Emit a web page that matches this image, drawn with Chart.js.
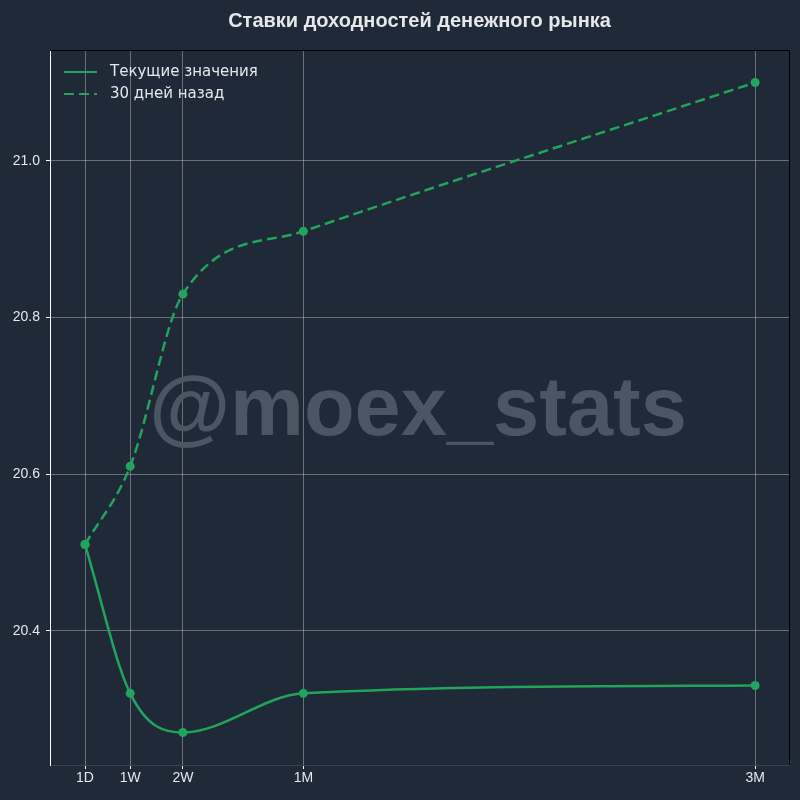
<!DOCTYPE html>
<html>
<head>
<meta charset="utf-8">
<script src="https://cdn.jsdelivr.net/npm/chart.js@4/dist/chart.umd.min.js"></script>
<style>
    html, body { margin: 0; padding: 0; background: #1f2937; }
    #wrap { width: 800px; height: 800px; }
</style>
</head>
<body>
<div id="wrap"><canvas id="rates-chart" width="800" height="800"></canvas></div>
<script>
var tenor_labels = ['1D', '1W', '2W', '1M', '3M'];
var tenor_days = [1, 7, 14, 30, 90];
var current_values = [20.51, 20.32, 20.27, 20.32, 20.33];
var month_ago_values = [20.51, 20.61, 20.83, 20.91, 21.10];
var y_ticks = [20.4, 20.6, 20.8, 21.0];

var title_text = 'Ставки доходностей денежного рынка';
var watermark_text = '@moex_stats';
var green = '#21a45e';

function toPoints(values) {
    var pts = [];
    for (var i = 0; i < values.length; i++) {
        pts.push({ x: tenor_days[i], y: values[i] });
    }
    return pts;
}

var extrasPlugin = {
    id: 'extras',
    beforeDatasetsDraw: function (chart) {
        var ctx = chart.ctx;
        ctx.save();
        ctx.fillStyle = '#4b5563';
        ctx.font = 'bold 83px "Liberation Sans", Arial, sans-serif';
        ctx.textAlign = 'center';
        ctx.textBaseline = 'alphabetic';
        ctx.fillText(watermark_text, 418, 435);
        ctx.restore();
    },
    afterDraw: function (chart) {
        var ctx = chart.ctx;
        var a = chart.chartArea;
        ctx.save();
        // title
        ctx.fillStyle = '#e5e7eb';
        ctx.font = 'bold 20px "Liberation Sans", Arial, sans-serif';
        ctx.textAlign = 'center';
        ctx.textBaseline = 'middle';
        ctx.fillText(title_text, (a.left + a.right) / 2, 21);

        // top and right frame
        ctx.strokeStyle = '#000000';
        ctx.lineWidth = 1;
        ctx.beginPath();
        ctx.moveTo(a.left, a.top + 0.5);
        ctx.lineTo(a.right + 0.5, a.top + 0.5);
        ctx.lineTo(a.right + 0.5, a.bottom);
        ctx.stroke();

        // legend
        var items = chart.data.datasets;
        ctx.font = '15px "DejaVu Sans", sans-serif';
        ctx.textAlign = 'left';
        for (var i = 0; i < items.length; i++) {
            var y = 72 + i * 22;
            ctx.strokeStyle = items[i].borderColor;
            ctx.lineWidth = 2;
            ctx.setLineDash(items[i].borderDash || []);
            ctx.beginPath();
            ctx.moveTo(64, y);
            ctx.lineTo(97, y);
            ctx.stroke();
            ctx.setLineDash([]);
            ctx.fillStyle = '#e5e7eb';
            ctx.fillText(items[i].label, 110, y);
        }
        ctx.restore();
    }
};

var RatesChart = new Chart(document.getElementById('rates-chart'), {
    type: 'line',
    data: {
        datasets: [{
            label: 'Текущие значения',
            data: toPoints(current_values),
            borderColor: green,
            backgroundColor: green,
            pointBackgroundColor: green,
            pointBorderWidth: 0,
            pointRadius: 4.5,
            borderWidth: 2.5,
            cubicInterpolationMode: 'monotone'
        }, {
            label: '30 дней назад',
            data: toPoints(month_ago_values),
            borderColor: green,
            backgroundColor: green,
            pointBackgroundColor: green,
            pointBorderWidth: 0,
            pointRadius: 4.5,
            borderWidth: 2.5,
            borderDash: [10, 5],
            cubicInterpolationMode: 'monotone'
        }]
    },
    options: {
        responsive: false,
        animation: false,
        layout: { padding: { top: 50, right: 11, left: 0, bottom: 0 } },
        plugins: {
            legend: { display: false },
            title: { display: false },
            tooltip: { enabled: false }
        },
        scales: {
            x: {
                type: 'linear',
                min: -3.65,
                max: 94.5,
                afterFit: function (scale) { scale.height = 35; },
                afterBuildTicks: function (scale) {
                    scale.ticks = tenor_days.map(function (d) { return { value: d }; });
                },
                ticks: {
                    autoSkip: false,
                    maxRotation: 0,
                    padding: 1,
                    color: '#e5e7eb',
                    font: { family: '"Liberation Sans", Arial, sans-serif', size: 14 },
                    callback: function (value) {
                        var idx = tenor_days.indexOf(value);
                        return idx >= 0 ? tenor_labels[idx] : '';
                    }
                },
                grid: {
                    color: 'rgba(200, 200, 200, 0.45)',
                    tickColor: '#ffffff',
                    tickLength: 4
                },
                border: { color: '#374151', width: 1 }
            },
            y: {
                min: 20.2285,
                max: 21.1415,
                afterFit: function (scale) { scale.width = 50; },
                afterBuildTicks: function (scale) {
                    scale.ticks = y_ticks.map(function (v) { return { value: v }; });
                },
                ticks: {
                    padding: 6,
                    color: '#e5e7eb',
                    font: { family: '"Liberation Sans", Arial, sans-serif', size: 14 },
                    callback: function (value) { return value.toFixed(1); }
                },
                grid: {
                    color: 'rgba(200, 200, 200, 0.45)',
                    tickColor: '#ffffff',
                    tickLength: 4
                },
                border: { color: '#ffffff', width: 1 }
            }
        }
    },
    plugins: [extrasPlugin]
});
</script>
</body>
</html>
